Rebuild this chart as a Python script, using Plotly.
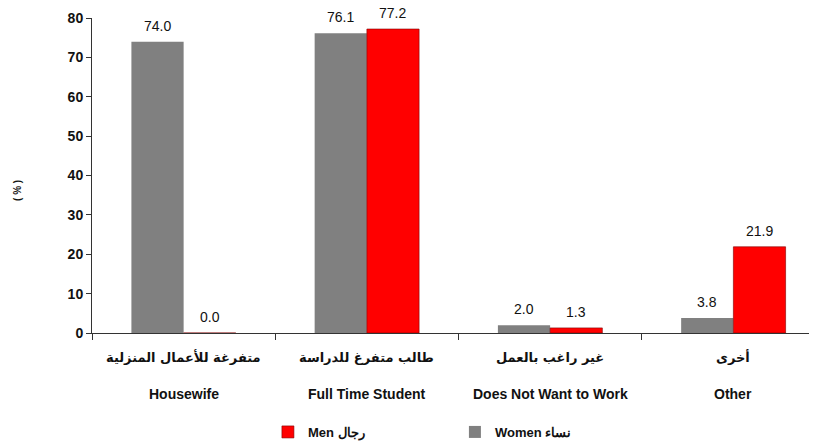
import plotly.graph_objects as go

categories_en = ["Housewife", "Full Time Student", "Does Not Want to Work", "Other"]
categories_ar = ["متفرغة للأعمال المنزلية", "طالب متفرغ للدراسة", "غير راغب بالعمل", "أخرى"]
women = [74.0, 76.1, 2.0, 3.8]
men = [0.0, 77.2, 1.3, 21.9]
y_ticks = [0, 10, 20, 30, 40, 50, 60, 70, 80]
women_name = "Women نساء"
men_name = "Men رجال"
y_title = "( % )"

FONT = "Liberation Sans, Arial, sans-serif"
AR_FONT = "DejaVu Sans, sans-serif"
BAR_HALF_PX = 26  # half of one bar width in pixels, for label placement

fig = go.Figure()
fig.add_trace(go.Bar(
    x=categories_en, y=women, name=women_name,
    marker=dict(color="#808080", line=dict(width=0)),
))
fig.add_trace(go.Bar(
    x=categories_en, y=men, name=men_name,
    marker=dict(color="#FF0000", line=dict(width=0.6, color="#800000")),
))

# value labels above bars
for series, sh in ((women, -BAR_HALF_PX), (men, BAR_HALF_PX)):
    for cat, v in zip(categories_en, series):
        fig.add_annotation(x=cat, y=v, xref="x", yref="y", text=f"{v:.1f}", showarrow=False,
                           xshift=sh, yshift=16, yanchor="middle", borderpad=0,
                           font=dict(family=FONT, size=14, color="#111"))

# two-line category labels
for en, ar in zip(categories_en, categories_ar):
    fig.add_annotation(x=en, y=0, xref="x", yref="paper", text=ar, showarrow=False,
                       yanchor="middle", yshift=-24,
                       font=dict(family=AR_FONT, size=13, color="#111", weight="bold"))
    fig.add_annotation(x=en, y=0, xref="x", yref="paper", text=en, showarrow=False,
                       yanchor="middle", yshift=-61,
                       font=dict(family=FONT, size=14, color="#111", weight="bold"))

# y-axis title
fig.add_annotation(x=-0.101, y=0.454, xref="paper", yref="paper", text=y_title, showarrow=False,
                   textangle=-90, xanchor="center", yanchor="middle",
                   font=dict(family=FONT, size=10, color="#111", weight="bold"))

fig.update_layout(
    width=817, height=447,
    margin=dict(l=84, r=0, t=10, b=122, autoexpand=False),
    plot_bgcolor="white", paper_bgcolor="white",
    barmode="group", bargap=0.43, bargroupgap=0,
    showlegend=True,
    legend=dict(orientation="h", traceorder="reversed", x=0.240, y=0.0515,
                xref="paper", yref="container", xanchor="left", yanchor="middle",
                entrywidth=142, entrywidthmode="pixels",
                font=dict(family=FONT, size=13, color="#111", weight="bold")),
    font=dict(family=FONT, color="#111"),
)
fig.update_xaxes(
    showticklabels=False, ticks="outside", tickson="boundaries", ticklen=6,
    tickcolor="#333", showline=True, linecolor="#333", linewidth=1,
    range=[-0.5, 3.5], showgrid=False, automargin=False,
)
fig.update_yaxes(
    range=[0, 80], tickvals=y_ticks,
    ticks="outside", ticklen=5, tickcolor="#333", showline=True, linecolor="#333", linewidth=1,
    showgrid=False, zeroline=False, automargin=False,
    tickfont=dict(family=FONT, size=14, color="#111", weight="bold"),
)
fig.write_html("out.html")
